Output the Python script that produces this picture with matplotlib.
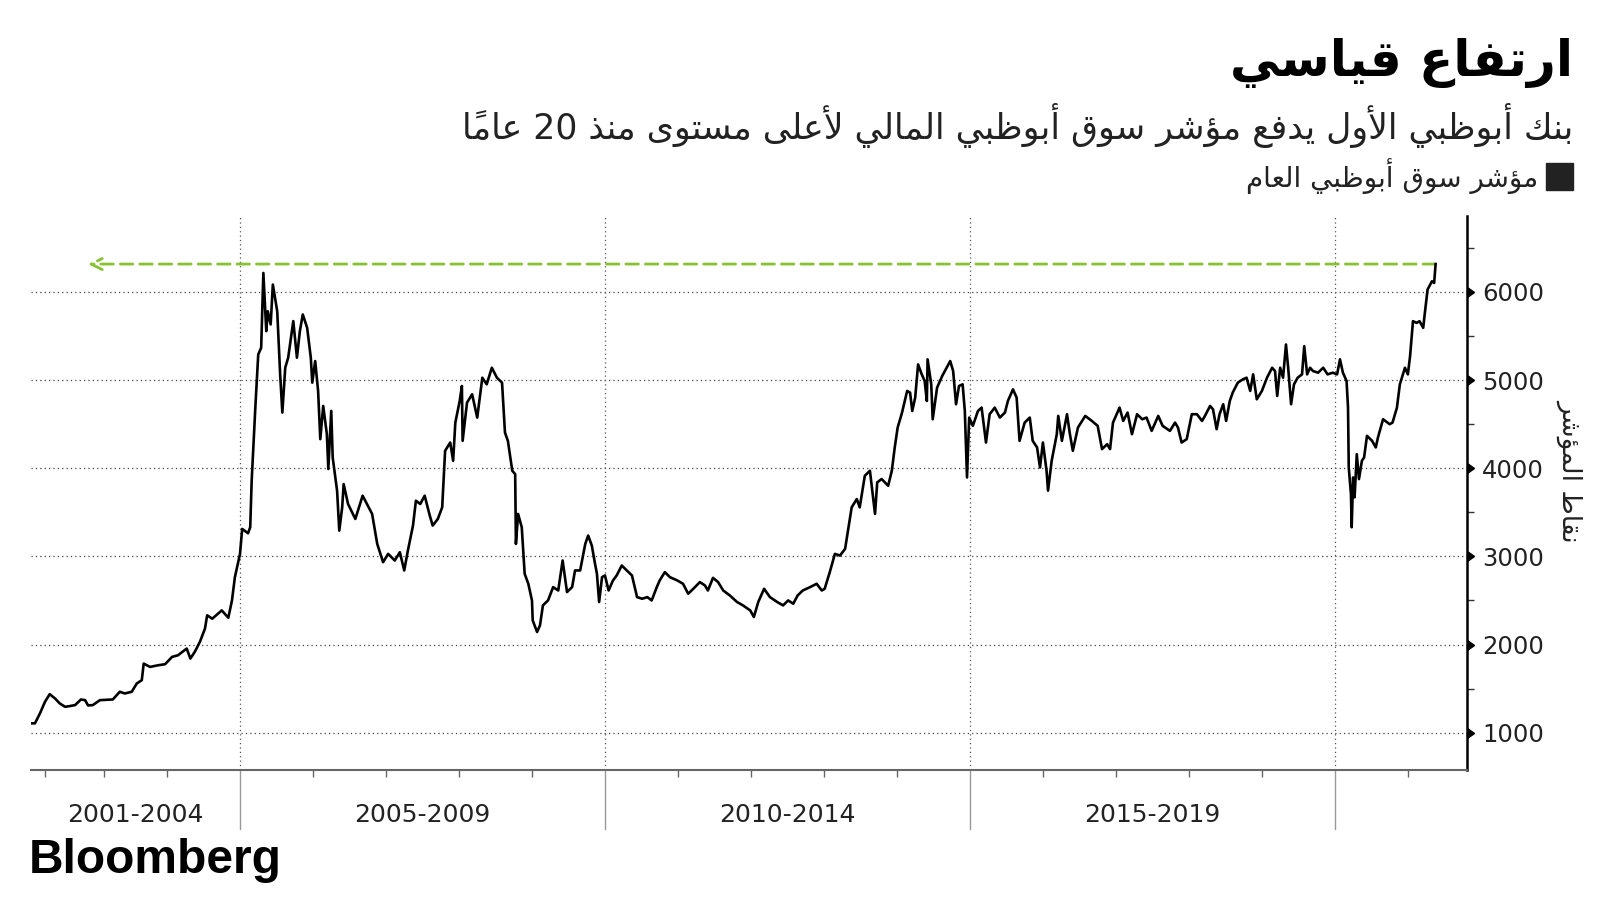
import numpy as np
import matplotlib.pyplot as plt
from matplotlib.patches import Rectangle
from matplotlib.transforms import blended_transform_factory

plt.rcParams['font.family'] = ['DejaVu Sans']

# ADX general index (decimal year, index points)
dates = [2001.75, 2001.82, 2001.91, 2002.00, 2002.08, 2002.17, 2002.25, 2002.34, 2002.42, 2002.51,
         2002.61, 2002.68, 2002.73, 2002.81, 2002.93, 2003.14, 2003.25, 2003.33, 2003.44, 2003.52,
         2003.60, 2003.63, 2003.73, 2003.86, 2003.97, 2004.07, 2004.15, 2004.27, 2004.32, 2004.38,
         2004.45, 2004.52, 2004.55, 2004.62, 2004.75, 2004.84, 2004.89, 2004.93, 2005.00, 2005.03,
         2005.11, 2005.14, 2005.16, 2005.21, 2005.23, 2005.25, 2005.29, 2005.32, 2005.36, 2005.38,
         2005.42, 2005.45, 2005.51, 2005.55, 2005.58, 2005.62, 2005.66, 2005.73, 2005.78, 2005.82,
         2005.86, 2005.92, 2005.97, 2005.99, 2006.03, 2006.07, 2006.10, 2006.14, 2006.19, 2006.21,
         2006.25, 2006.27, 2006.33, 2006.36, 2006.40, 2006.42, 2006.48, 2006.58, 2006.68, 2006.81,
         2006.88, 2006.96, 2007.03, 2007.12, 2007.19, 2007.25, 2007.30, 2007.37, 2007.41, 2007.47,
         2007.53, 2007.60, 2007.64, 2007.71, 2007.77, 2007.81, 2007.88, 2007.92, 2007.95, 2008.01,
         2008.04, 2008.05, 2008.11, 2008.18, 2008.25, 2008.32, 2008.38, 2008.45, 2008.52, 2008.59,
         2008.63, 2008.67, 2008.73, 2008.77, 2008.78, 2008.81, 2008.86, 2008.90, 2008.95, 2009.00,
         2009.01, 2009.07, 2009.11, 2009.15, 2009.22, 2009.29, 2009.36, 2009.42, 2009.48, 2009.55,
         2009.59, 2009.66, 2009.73, 2009.77, 2009.82, 2009.86, 2009.89, 2009.92, 2009.96, 2010.00,
         2010.05, 2010.11, 2010.16, 2010.23, 2010.30, 2010.37, 2010.44, 2010.51, 2010.58, 2010.64,
         2010.71, 2010.75, 2010.82, 2010.89, 2010.99, 2011.07, 2011.14, 2011.21, 2011.30, 2011.37,
         2011.41, 2011.48, 2011.55, 2011.62, 2011.71, 2011.81, 2011.89, 2011.99, 2012.04, 2012.10,
         2012.18, 2012.26, 2012.36, 2012.44, 2012.51, 2012.58, 2012.64, 2012.71, 2012.81, 2012.90,
         2012.97, 2013.01, 2013.08, 2013.15, 2013.22, 2013.29, 2013.33, 2013.38, 2013.45, 2013.49,
         2013.56, 2013.63, 2013.70, 2013.73, 2013.79, 2013.88, 2013.93, 2013.97, 2014.01, 2014.07,
         2014.14, 2014.18, 2014.21, 2014.25, 2014.29, 2014.34, 2014.38, 2014.41, 2014.42, 2014.47,
         2014.49, 2014.55, 2014.62, 2014.68, 2014.73, 2014.77, 2014.81, 2014.85, 2014.90, 2014.93,
         2014.96, 2014.99, 2015.04, 2015.11, 2015.16, 2015.22, 2015.27, 2015.34, 2015.41, 2015.48,
         2015.52, 2015.59, 2015.64, 2015.68, 2015.75, 2015.82, 2015.86, 2015.92, 2015.96, 2016.00,
         2016.05, 2016.07, 2016.12, 2016.19, 2016.21, 2016.26, 2016.33, 2016.37, 2016.41, 2016.48,
         2016.58, 2016.67, 2016.75, 2016.81, 2016.88, 2016.92, 2016.96, 2017.05, 2017.10, 2017.16,
         2017.22, 2017.29, 2017.36, 2017.42, 2017.49, 2017.58, 2017.64, 2017.74, 2017.81, 2017.85,
         2017.90, 2017.97, 2018.04, 2018.11, 2018.18, 2018.22, 2018.29, 2018.33, 2018.38, 2018.42,
         2018.47, 2018.51, 2018.56, 2018.60, 2018.67, 2018.74, 2018.79, 2018.84, 2018.88, 2018.93,
         2019.00, 2019.07, 2019.14, 2019.18, 2019.21, 2019.25, 2019.29, 2019.33, 2019.36, 2019.40,
         2019.44, 2019.49, 2019.55, 2019.58, 2019.62, 2019.66, 2019.70, 2019.77, 2019.84, 2019.90,
         2019.97, 2020.03, 2020.07, 2020.11, 2020.16, 2020.18, 2020.19, 2020.22, 2020.23, 2020.25,
         2020.27, 2020.30, 2020.33, 2020.37, 2020.40, 2020.44, 2020.51, 2020.56, 2020.59, 2020.66,
         2020.75, 2020.79, 2020.85, 2020.89, 2020.96, 2021.00, 2021.03, 2021.07, 2021.12, 2021.16,
         2021.21, 2021.23, 2021.27, 2021.33, 2021.36, 2021.38]
values = [1106, 1106, 1219, 1351, 1437, 1388, 1332, 1294, 1302, 1313,
          1377, 1369, 1309, 1313, 1369, 1377, 1464, 1445, 1464, 1558,
          1596, 1784, 1746, 1765, 1777, 1860, 1878, 1954, 1841, 1916,
          2029, 2180, 2331, 2293, 2387, 2304, 2500, 2764, 3028, 3311,
          3262, 3330, 3858, 4687, 4989, 5290, 5366, 6214, 5554, 5780,
          5630, 6082, 5780, 5064, 4631, 5140, 5253, 5668, 5253, 5554,
          5743, 5592, 5253, 4970, 5215, 4876, 4329, 4706, 4385, 3990,
          4650, 4121, 3745, 3292, 3556, 3820, 3594, 3424, 3688, 3481,
          3141, 2934, 3028, 2953, 3047, 2840, 3066, 3349, 3631, 3594,
          3688, 3462, 3349, 3424, 3556, 4197, 4291, 4084, 4517, 4762,
          4932, 4310, 4743, 4838, 4574, 5026, 4951, 5139, 5026, 4970,
          4404, 4310, 3971, 3933, 3141, 3481, 3330, 2802, 2689, 2500,
          2274, 2142, 2218, 2444, 2500, 2651, 2613, 2953, 2595, 2651,
          2840, 2840, 3141, 3236, 3122, 2934, 2802, 2482, 2764, 2783,
          2613, 2727, 2783, 2896, 2840, 2783, 2538, 2519, 2538, 2500,
          2651, 2727, 2821, 2764, 2727, 2689, 2576, 2632, 2708, 2670,
          2613, 2756, 2708, 2613, 2557, 2482, 2444, 2387, 2312, 2482,
          2632, 2538, 2482, 2444, 2500, 2463, 2557, 2613, 2651, 2689,
          2613, 2632, 2821, 3028, 3009, 3085, 3292, 3556, 3650, 3556,
          3914, 3971, 3481, 3839, 3877, 3801, 3971, 4235, 4461, 4631,
          4876, 4857, 4649, 4800, 5177, 5064, 4989, 4762, 5234, 4951,
          4555, 4913, 5045, 5139, 5215, 5102, 4725, 4932, 4951, 4649,
          3895, 4574, 4480, 4649, 4687, 4291, 4612, 4687, 4574, 4631,
          4762, 4894, 4800, 4310, 4517, 4574, 4310, 4235, 4008, 4291,
          3971, 3745, 4084, 4385, 4593, 4310, 4612, 4385, 4197, 4461,
          4593, 4536, 4480, 4216, 4272, 4216, 4517, 4687, 4536, 4631,
          4385, 4612, 4555, 4574, 4423, 4593, 4480, 4423, 4517, 4461,
          4291, 4329, 4612, 4612, 4536, 4593, 4706, 4668, 4442, 4612,
          4725, 4536, 4762, 4857, 4970, 5008, 5026, 4876, 5064, 4781,
          4876, 5026, 5139, 5102, 4819, 5139, 5026, 5403, 5139, 4725,
          4951, 5026, 5064, 5384, 5064, 5139, 5102, 5083, 5139, 5064,
          5083, 5064, 5234, 5083, 4989, 4687, 4008, 3707, 3330, 3895,
          3669, 4159, 3876, 4084, 4121, 4367, 4310, 4235, 4348, 4555,
          4499, 4517, 4687, 4951, 5139, 5064, 5271, 5667, 5648, 5667,
          5592, 5743, 6026, 6120, 6101, 6315]

periods = ['2001-2004', '2005-2009', '2010-2014', '2015-2019']
period_edges = [2001.75, 2005, 2010, 2015, 2020]
year_ticks = list(range(2002, 2022))
y_ticks = [1000, 2000, 3000, 4000, 5000, 6000]
y_minor = [1500, 2500, 3500, 4500, 5500, 6500]

title = 'ارتفاع قياسي'
subtitle = 'بنك أبوظبي الأول يدفع مؤشر سوق أبوظبي المالي لأعلى مستوى منذ 20 عاماً'
legend_label = 'مؤشر سوق أبوظبي العام'
y_label = 'نقاط المؤشر'

# --- minimal Arabic shaping (matplotlib draws text left to right, unshaped) ---
dual_base = {'\u0626': 0xFE89, '\u0628': 0xFE8F, '\u062A': 0xFE95, '\u062B': 0xFE99,
             '\u062C': 0xFE9D, '\u062D': 0xFEA1, '\u062E': 0xFEA5, '\u0633': 0xFEB1,
             '\u0634': 0xFEB5, '\u0635': 0xFEB9, '\u0636': 0xFEBD, '\u0637': 0xFEC1,
             '\u0638': 0xFEC5, '\u0639': 0xFEC9, '\u063A': 0xFECD, '\u0641': 0xFED1,
             '\u0642': 0xFED5, '\u0643': 0xFED9, '\u0644': 0xFEDD, '\u0645': 0xFEE1,
             '\u0646': 0xFEE5, '\u0647': 0xFEE9, '\u064A': 0xFEF1}
right_base = {'\u0622': 0xFE81, '\u0623': 0xFE83, '\u0624': 0xFE85, '\u0625': 0xFE87,
              '\u0627': 0xFE8D, '\u0629': 0xFE93, '\u062F': 0xFEA9, '\u0630': 0xFEAB,
              '\u0631': 0xFEAD, '\u0632': 0xFEAF, '\u0648': 0xFEED, '\u0649': 0xFEEF,
              '\u0644\u0622': 0xFEF5, '\u0644\u0623': 0xFEF7, '\u0644\u0625': 0xFEF9,
              '\u0644\u0627': 0xFEFB}


def shape_arabic(text):
    toks = []
    for c in text:
        if '\u064B' <= c <= '\u0652' and toks:
            toks[-1][1] += c
        elif toks and toks[-1][0] == '\u0644' and not toks[-1][1] and '\u0644' + c in right_base:
            toks[-1][0] += c
        else:
            toks.append([c, ''])
    clusters = []
    for i, (c, m) in enumerate(toks):
        prev_ok = i > 0 and toks[i - 1][0] in dual_base
        next_ok = (c in dual_base and i + 1 < len(toks)
                   and (toks[i + 1][0] in dual_base or toks[i + 1][0] in right_base))
        if c in dual_base:
            form = 3 if prev_ok and next_ok else 1 if prev_ok else 2 if next_ok else 0
            clusters.append(chr(dual_base[c] + form) + m)
        elif c in right_base:
            clusters.append(chr(right_base[c] + (1 if prev_ok else 0)) + m)
        else:
            clusters.append(c + m)
    runs = []
    for cl in clusters:
        ltr = cl.isascii() and cl.isalnum()
        if runs and runs[-1][0] == ltr:
            runs[-1][1].append(cl)
        else:
            runs.append([ltr, [cl]])
    vis = ''
    for ltr, cls in reversed(runs):
        vis += ''.join(cls if ltr else reversed(cls))
    return vis


# the early years sit closer together on the original axis
knot_years = [2001.75, 2002, 2003, 2004, 2005, 2021.81]
knot_pos = [31, 45, 104, 167, 240, 1467]


def fwd(x):
    return np.interp(x, knot_years, knot_pos)


def inv(p):
    return np.interp(p, knot_pos, knot_years)


green = '#86c232'

fig = plt.figure(figsize=(16, 9), dpi=100)
ax = fig.add_axes([31 / 1600, 130 / 900, 1436 / 1600, 554 / 900])
ax.set_xscale('function', functions=(fwd, inv))
ax.set_xlim(knot_years[0], knot_years[-1])
ax.set_ylim(577, 6860)

for y in y_ticks:
    ax.axhline(y, color='#444444', lw=0.9, ls=(0, (1, 2.5)), zorder=1)
for e in period_edges[1:]:
    ax.axvline(e, color='#555555', lw=0.9, ls=(0, (1, 2.5)), zorder=1)
    ax.plot([e, e], [0, -0.107], color='#999999', lw=1,
            transform=blended_transform_factory(ax.transData, ax.transAxes), clip_on=False)

ax.plot(dates, values, color='black', lw=1.9, zorder=3)

record = values[-1]
ax.annotate('', xy=(2002.73, record), xytext=(dates[-1], record),
            arrowprops=dict(arrowstyle='->', color=green, lw=2, linestyle=(0, (4.5, 2.5)),
                            mutation_scale=20, shrinkA=0, shrinkB=0), zorder=2)

for s in ['left', 'top']:
    ax.spines[s].set_visible(False)
ax.spines['bottom'].set_color('#666666')
ax.spines['bottom'].set_linewidth(1.5)
ax.spines['right'].set_color('black')
ax.spines['right'].set_linewidth(1.8)

ax.set_xticks([])
ax.set_xticks([y for y in year_ticks if y not in period_edges], minor=True)
ax.tick_params(axis='x', which='minor', length=5, width=1, color='#666666')

ax.yaxis.tick_right()
ax.set_yticks(y_ticks)
ax.set_yticklabels([str(v) for v in y_ticks])
ax.set_yticks(y_minor, minor=True)
ax.tick_params(axis='y', which='major', length=0, pad=11, labelsize=17.5, labelcolor='#222222')
ax.tick_params(axis='y', which='minor', length=5, width=1, color='#333333')
ax.plot([1] * len(y_ticks), y_ticks, ls='none', marker=9, ms=7, color='black',
        transform=blended_transform_factory(ax.transAxes, ax.transData), clip_on=False)

for i, label in enumerate(periods):
    mid = inv((fwd(period_edges[i]) + fwd(period_edges[i + 1])) / 2)
    ax.text(mid, -0.081, label, transform=blended_transform_factory(ax.transData, ax.transAxes),
            ha='center', va='center', fontsize=18, color='#222222')

fig.text(1573 / 1600, 1 - 38 / 900, shape_arabic(title), ha='right', va='top',
         fontsize=36, fontweight='bold', color='black')
fig.text(1573 / 1600, 1 - 126 / 900, shape_arabic(subtitle), ha='right', va='center',
         fontsize=25, color='#222222')
fig.patches.append(Rectangle((1546 / 1600, 1 - 190 / 900), 27 / 1600, 27 / 900,
                             transform=fig.transFigure, color='#222222'))
fig.text(1538 / 1600, 1 - 176 / 900, shape_arabic(legend_label), ha='right', va='center',
         fontsize=20, color='#222222')
fig.text(1570 / 1600, 1 - 470 / 900, shape_arabic(y_label), ha='center', va='center',
         rotation=270, fontsize=19, color='#222222')
fig.text(29 / 1600, 1 - 873 / 900, 'Bloomberg', ha='left', va='baseline',
         fontsize=34.5, fontweight='bold', family='Liberation Sans', color='black')

fig.savefig('out.png', dpi=100, facecolor='white')
